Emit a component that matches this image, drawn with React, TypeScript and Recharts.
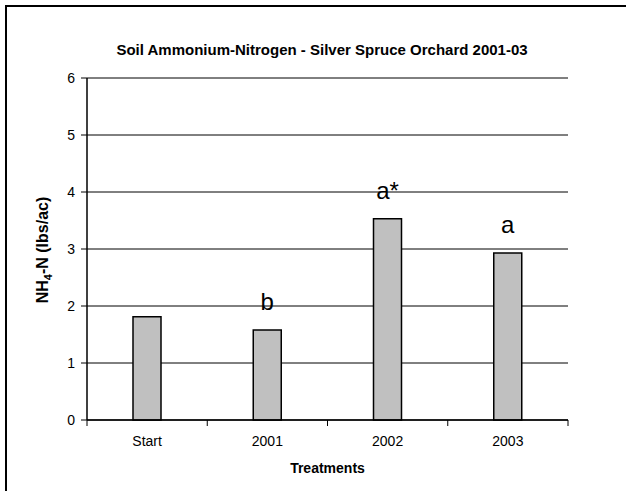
import { BarChart, Bar, XAxis, YAxis, CartesianGrid, LabelList } from 'recharts'

const categories = ['Start', '2001', '2002', '2003']
const nh4Values = [1.81, 1.58, 3.53, 2.93]
const sigLetters = ['', 'b', 'a*', 'a']
const yTicks = [0, 1, 2, 3, 4, 5, 6]

const data = categories.map((name, i) => ({ name, value: nh4Values[i], letter: sigLetters[i] }))

const W = 626
const H = 491
const margin = { top: 78, right: 58, bottom: 0, left: 0 }
const yAxisWidth = 87
const xAxisHeight = 71
const band = (W - yAxisWidth - margin.right) / categories.length
const font = 'Arial, "Liberation Sans", sans-serif'

function XTick(props: any) {
    const { x, y, payload, index } = props
    return (
        <g>
            <line x1={x - band / 2} y1={y} x2={x - band / 2} y2={y + 6} stroke="#000" strokeWidth={1} />
            {index === categories.length - 1 && (
                <line x1={x + band / 2} y1={y} x2={x + band / 2} y2={y + 6} stroke="#000" strokeWidth={1} />
            )}
            <text x={x} y={y + 26} textAnchor="middle" fontSize={14} fill="#000" fontFamily={font}>
                {payload.value}
            </text>
        </g>
    )
}

function LetterLabel(props: any) {
    const { x, y, width, value } = props
    if (!value) return null
    return (
        <text x={x + width / 2} y={y - 20} textAnchor="middle" fontSize={24} fill="#000" fontFamily={font}>
            {value}
        </text>
    )
}

function YTitle() {
    return (
        <text transform="translate(48, 250) rotate(-90)" textAnchor="middle" fontSize={16} fontWeight="bold" fill="#000" fontFamily={font}>
            NH<tspan fontSize={11} dy={4}>4</tspan><tspan dy={-4}>-N (lbs/ac)</tspan>
        </text>
    )
}

export default function App() {
    return (
        <div style={{ position: 'absolute', left: 0, top: 0, width: W, height: H, overflow: 'hidden', background: '#fff', fontFamily: font }}>
            <div style={{ position: 'absolute', left: 5, top: 5, width: 700, height: 600, border: '2px solid #000' }} />
            <div style={{ position: 'absolute', left: 0, top: 41, width: 644, textAlign: 'center', fontSize: 15, fontWeight: 'bold', color: '#000' }}>
                Soil Ammonium-Nitrogen - Silver Spruce Orchard 2001-03
            </div>
            <div style={{ position: 'absolute', left: 0, top: 0 }}>
                <BarChart width={W} height={H} data={data} margin={margin} barCategoryGap={0}>
                    <CartesianGrid vertical={false} stroke="#000" strokeWidth={1} />
                    <XAxis
                        dataKey="name"
                        height={xAxisHeight}
                        tickLine={false}
                        tickSize={0}
                        tickMargin={0}
                        axisLine={{ stroke: '#000', strokeWidth: 1.5 }}
                        tick={<XTick />}
                        interval={0}
                        label={{ value: 'Treatments', position: 'insideBottom', offset: 18, fontSize: 14, fontWeight: 'bold', fill: '#000', fontFamily: font }}
                    />
                    <YAxis
                        width={yAxisWidth}
                        domain={[0, 6]}
                        ticks={yTicks}
                        interval={0}
                        tickSize={6}
                        tickMargin={6}
                        tickLine={{ stroke: '#000' }}
                        axisLine={{ stroke: '#000', strokeWidth: 1.5 }}
                        tick={{ fill: '#000', fontSize: 14, fontFamily: font }}
                        label={<YTitle />}
                    />
                    <YAxis
                        yAxisId="right"
                        orientation="right"
                        width={0}
                        domain={[0, 6]}
                        tick={false}
                        tickLine={false}
                        axisLine={{ stroke: '#000', strokeWidth: 1.5 }}
                    />
                    <Bar dataKey="value" barSize={28} fill="#c0c0c0" stroke="#000" strokeWidth={1.5} isAnimationActive={false}>
                        <LabelList dataKey="letter" content={<LetterLabel />} />
                    </Bar>
                </BarChart>
            </div>
        </div>
    )
}
